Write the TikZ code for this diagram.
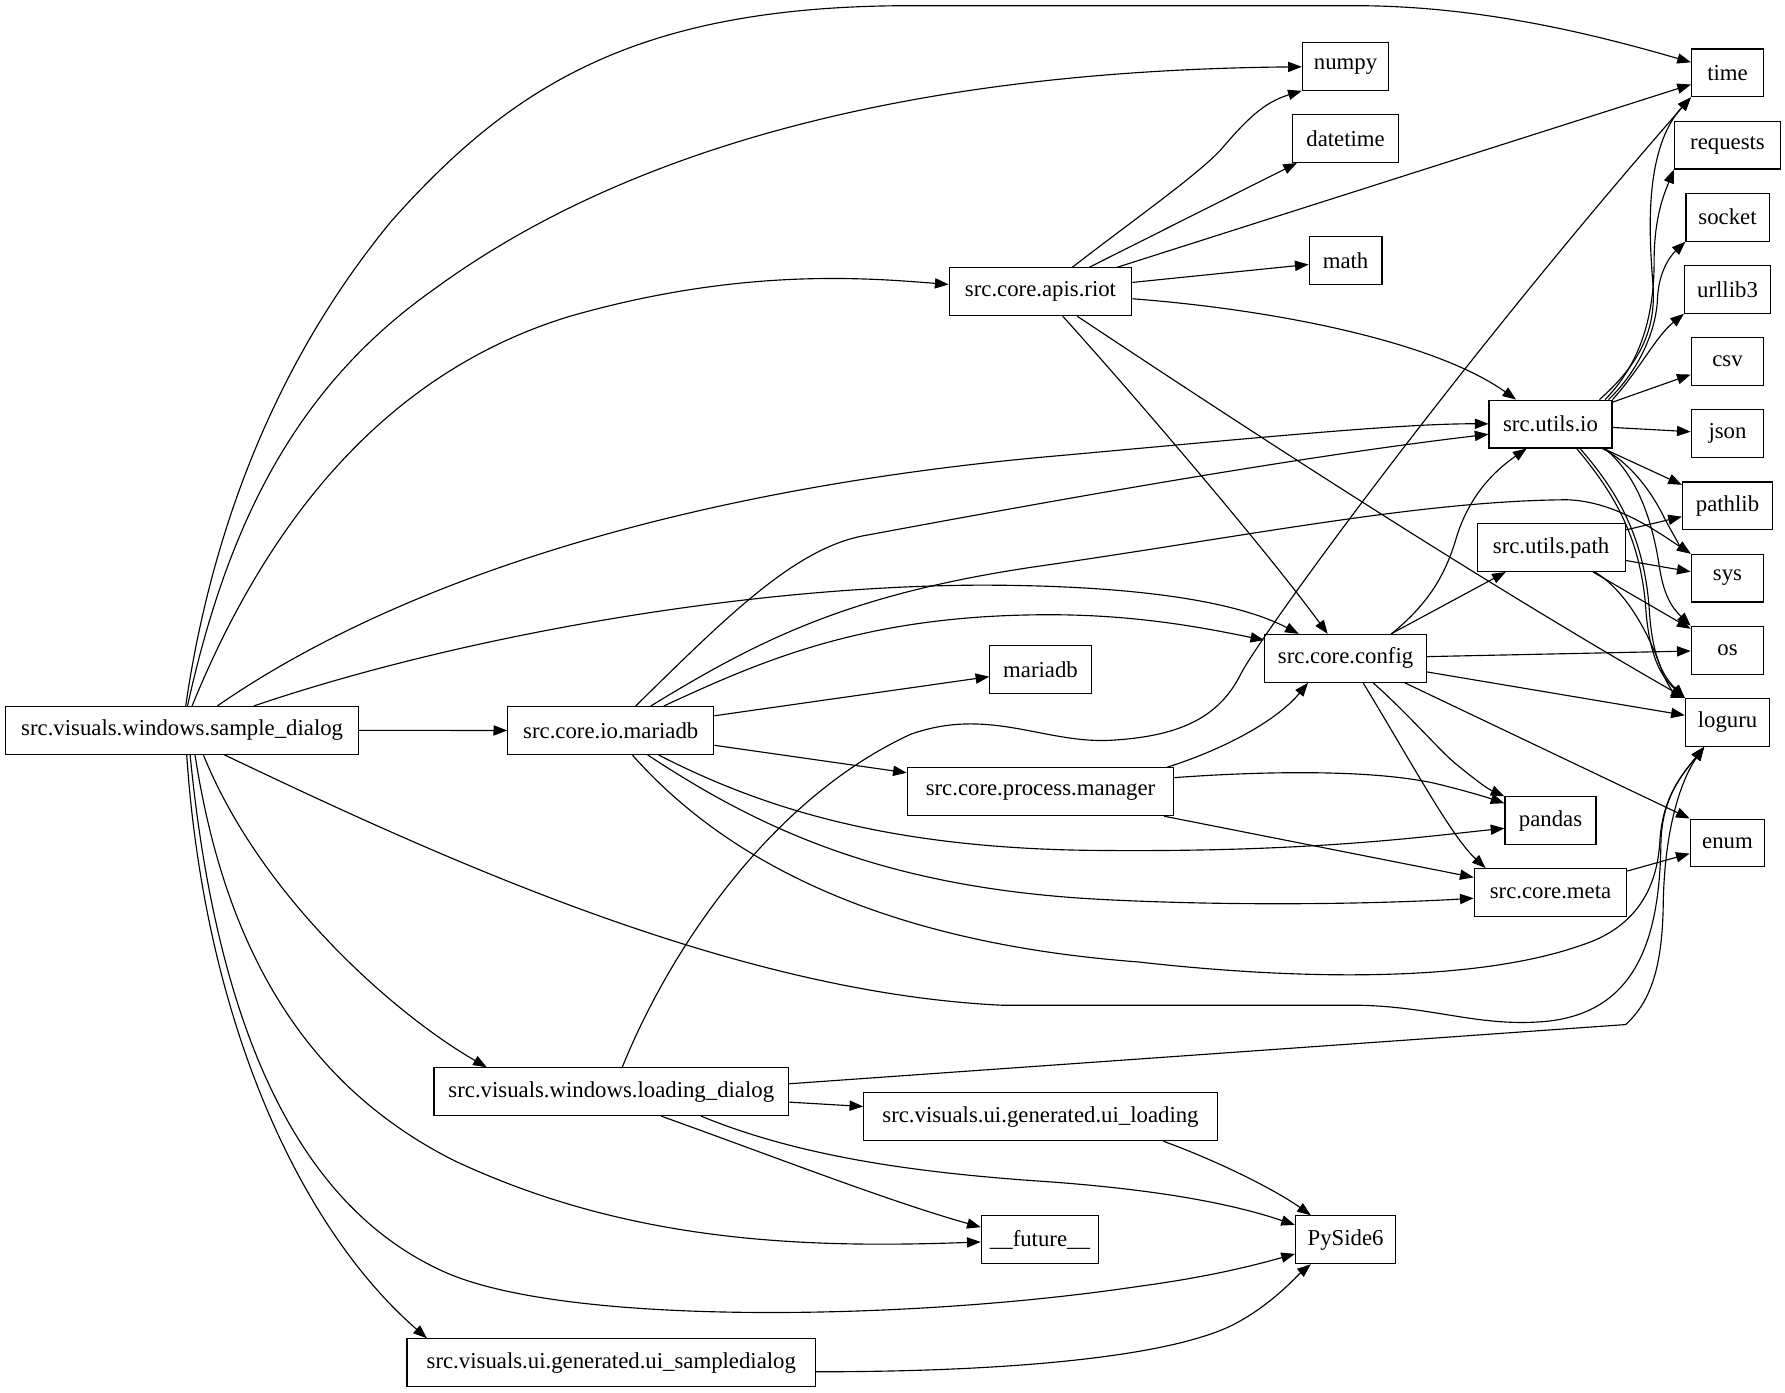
\documentclass[tikz,border=0pt]{standalone}
\usepackage{fontspec}
\setmainfont{Liberation Serif}
\usepackage{tikz}
\usetikzlibrary{arrows.meta, positioning}
\tikzset{
	modbox/.style={rectangle, draw=black, line width=1pt, minimum height=42pt, inner xsep=4pt, inner ysep=2pt, align=center},
	% import edges
	imp/.style={-{Triangle[length=12pt, width=9pt]}, line width=1pt},
}

\begin{document}
\begin{tikzpicture}[x=1pt, y=-1pt, font=\fontsize{20}{24}\selectfont, node distance=20.4pt]
	\useasboundingbox (0,0) rectangle (1568,1223);
	\node[modbox, minimum width=310pt] (sdlg) at (160,641.5) {src.visuals.windows.sample\_dialog};
	\node[modbox, minimum width=181pt] (iomdb) at (536.5,641.7) {src.core.io.mariadb};
	\node[modbox, minimum width=311.6pt] (ldlg) at (537,959) {src.visuals.windows.loading\_dialog};
	\node[modbox, minimum width=359pt] (uisample) at (537,1197) {src.visuals.ui.generated.ui\_sampledialog};
	\node[modbox, minimum width=160.5pt] (riot) at (914,256.3) {src.core.apis.riot};
	\node[modbox, minimum width=89pt] (mariadb) at (914,588) {mariadb};
	\node[modbox, minimum width=234pt] (pman) at (914,695.5) {src.core.process.manager};
	\node[modbox, minimum width=310.5pt] (uiload) at (914,981) {src.visuals.ui.generated.ui\_loading};
	\node[modbox, minimum width=103pt] (future) at (913.5,1089) {\_\_future\_\_};
	\node[modbox, minimum width=76pt] (numpy) at (1182,58.3) {numpy};
	\node[modbox, minimum width=93.5pt] (dtime) at (1182,121.7) {datetime};
	\node[modbox, minimum width=64pt] (math) at (1182,229) {math};
	\node[modbox, minimum width=142pt] (config) at (1182,578.3) {src.core.config};
	\node[modbox, minimum width=88pt] (pyside) at (1182,1089) {PySide6};
	\node[modbox, minimum width=108pt] (uio) at (1362,372.5) {src.utils.io};
	\node[modbox, minimum width=130pt] (upath) at (1362.5,481) {src.utils.path};
	\node[modbox, minimum width=80pt] (pandas) at (1362,721) {pandas};
	\node[modbox, minimum width=134pt] (meta) at (1362,784) {src.core.meta};
	% right column
	\node[modbox, minimum width=63.3pt] (time) at (1517.5,64) {time};
	\node[modbox, minimum width=93.2pt, below=of time] (requests) {requests};
	\node[modbox, minimum width=73pt, below=of requests] (socket) {socket};
	\node[modbox, minimum width=75.7pt, below=of socket] (urllib) {urllib3};
	\node[modbox, minimum width=63.8pt, below=of urllib] (csv) {csv};
	\node[modbox, minimum width=63.8pt, below=of csv] (json) {json};
	\node[modbox, minimum width=79.2pt, below=of json] (pathlib) {pathlib};
	\node[modbox, minimum width=63.8pt, below=of pathlib] (sys) {sys};
	\node[modbox, minimum width=63.8pt, below=of sys] (os) {os};
	\node[modbox, minimum width=74.1pt, below=of os] (loguru) {loguru};
	\node[modbox, minimum width=65.5pt, below=62.9pt of loguru] (enum) {enum};

	% sample_dialog
	\draw[imp] (sdlg) .. controls (185,470) and (240,320) .. (344,194) .. controls (450,75) and (560,5) .. (800,5) -- (1190,5) .. controls (1300,5) and (1400,30) .. (time);
	\draw[imp] (sdlg) .. controls (200,460) and (260,340) .. (380,255) .. controls (550,130) and (800,62) .. (numpy);
	\draw[imp] (sdlg) .. controls (230,470) and (330,330) .. (500,278) .. controls (650,235) and (760,244) .. (riot);
	\draw[imp] (sdlg) .. controls (350,510) and (600,430) .. (922,401) .. controls (1100,385) and (1230,372) .. (uio);
	\draw[imp] (sdlg) .. controls (400,560) and (650,515) .. (860,514) .. controls (980,514) and (1080,525) .. (config);
	\draw[imp] (sdlg) -- (iomdb);
	\draw[imp] ([xshift=18.6pt]sdlg.south) .. controls (230,790) and (350,893) .. ([xshift=-109.4pt]ldlg.north);
	\draw[imp] ([xshift=11.3pt]sdlg.south) .. controls (200,850) and (280,960) .. (400,1020) .. controls (550,1090) and (700,1097) .. (future);
	\draw[imp] ([xshift=7pt]sdlg.south) .. controls (190,900) and (260,1060) .. (392,1118) .. controls (500,1165) and (800,1160) .. (1000,1130) .. controls (1060,1122) and (1100,1112) .. (pyside);
	\draw[imp] ([xshift=4pt]sdlg.south) .. controls (180,900) and (265,1080) .. ([xshift=-162pt]uisample.north);
	\draw[imp] ([xshift=37pt]sdlg.south) .. controls (400,760) and (650,872) .. (880,883) -- (1192,883) .. controls (1260,884) and (1300,903) .. (1360,897) .. controls (1440,888) and (1458,820) .. (1459,740) .. controls (1460,700) and (1478,680) .. ([xshift=-20.5pt]loguru.south);

	% io.mariadb
	\draw[imp] (iomdb) .. controls (640,540) and (700,480) .. (762,470) .. controls (950,435) and (1150,400) .. ([yshift=-9pt]uio.west);
	\draw[imp] (iomdb) .. controls (670,560) and (750,520) .. (922,496) .. controls (1100,470) and (1250,440) .. (1376,439) .. controls (1420,440) and (1460,470) .. (sys.north west);
	\draw[imp] (iomdb) .. controls (670,580) and (760,540) .. (922,540) .. controls (1000,540) and (1060,552) .. ([yshift=16pt]config.west);
	\draw[imp] (iomdb) -- (mariadb);
	\draw[imp] (iomdb) -- (pman);
	\draw[imp] (iomdb) .. controls (670,710) and (780,745) .. (960,747) .. controls (1150,749) and (1250,735) .. ([yshift=-6.6pt]pandas.west);
	\draw[imp] (iomdb) .. controls (670,730) and (780,780) .. (966,790) .. controls (1100,797) and (1230,793) .. ([yshift=-5pt]meta.west);
	\draw[imp] (iomdb) .. controls (650,770) and (800,830) .. (1000,845) .. controls (1150,862) and (1300,862) .. (1390,830) .. controls (1445,812) and (1456,770) .. (1458,740) .. controls (1460,700) and (1478,680) .. ([xshift=-20.5pt]loguru.south);

	% apis.riot
	\draw[imp] (riot) .. controls (1000,190) and (1050,155) .. (1072,132) .. controls (1095,105) and (1110,90) .. (numpy.south west);
	\draw[imp] (riot) -- (dtime);
	\draw[imp] (riot) -- (time);
	\draw[imp] (riot) -- (math);
	\draw[imp] (riot) .. controls (1120,272) and (1260,300) .. (uio);
	\draw[imp] (riot) .. controls (990,340) and (1110,480) .. (config);
	\draw[imp] (riot) .. controls (1100,380) and (1300,510) .. (loguru);

	% utils.io
	\draw[imp] ([xshift=43pt]uio.north) .. controls (1440,320) and (1455,290) .. (1452,250) .. controls (1448,200) and (1445,130) .. (time.south west);
	\draw[imp] ([xshift=48pt]uio.north) .. controls (1440,320) and (1453,280) .. (1453,230) .. controls (1453,190) and (1462,170) .. (requests.south west);
	\draw[imp] ([xshift=51pt]uio.north) .. controls (1440,325) and (1455,290) .. (1456,262) .. controls (1457,240) and (1466,226) .. (socket.south west);
	\draw[imp] (uio.north east) .. controls (1440,325) and (1455,295) .. (urllib.south west);
	\draw[imp] (uio) -- (csv);
	\draw[imp] (uio) -- (json);
	\draw[imp] (uio) -- (pathlib);
	\draw[imp] ([xshift=45.6pt]uio.south) .. controls (1430,405) and (1450,430) .. (1462,455) .. controls (1470,470) and (1476,480) .. (sys.north west);
	\draw[imp] ([xshift=48pt]uio.south) .. controls (1440,420) and (1452,460) .. (1458,500) .. controls (1462,525) and (1470,535) .. (os.north west);
	\draw[imp] ([xshift=23pt]uio.south) .. controls (1415,430) and (1442,470) .. (1446,539) .. controls (1450,580) and (1460,595) .. (loguru.north west);
	\draw[imp] ([xshift=26pt]uio.south) .. controls (1419,430) and (1445,470) .. (1449,539) .. controls (1452,580) and (1462,595) .. (loguru.north west);

	% utils.path
	\draw[imp] (upath) -- (pathlib);
	\draw[imp] (upath) -- (sys);
	\draw[imp] (upath) -- (os);
	\draw[imp] ([xshift=38.5pt]upath.south) .. controls (1430,520) and (1450,560) .. (1460,590) .. controls (1465,603) and (1472,610) .. (loguru.north west);

	% core.config
	\draw[imp] ([xshift=40.3pt]config.north) .. controls (1255,530) and (1270,505) .. (1280,470) .. controls (1293,430) and (1318,410) .. ([xshift=-21pt]uio.south);
	\draw[imp] (config) -- (upath);
	\draw[imp] (config) -- (os);
	\draw[imp] (config) -- (loguru);
	\draw[imp] ([xshift=52pt]config.south) -- (enum.north west);
	\draw[imp] ([xshift=24.2pt]config.south) .. controls (1240,630) and (1265,660) .. (1280,672) .. controls (1295,684) and (1305,692) .. (pandas.north west);
	\draw[imp] ([xshift=15.4pt]config.south) .. controls (1240,670) and (1275,735) .. ([xshift=-57pt]meta.north);

	% process.manager, meta
	\draw[imp] ([xshift=111pt]pman.north) .. controls (1070,660) and (1120,635) .. ([xshift=-33pt]config.south);
	\draw[imp] ([yshift=12.4pt]pman.east) .. controls (1100,678) and (1200,675) .. (1260,688) .. controls (1285,694) and (1305,700) .. ([yshift=15.4pt]pandas.west);
	\draw[imp] (pman) -- (meta);
	\draw[imp] (meta) -- (enum);

	% loading_dialog and ui modules
	\draw[imp] ([xshift=9.6pt]ldlg.north) .. controls (590,830) and (680,700) .. (800,645) .. controls (870,620) and (920,655) .. (980,650) .. controls (1040,646) and (1072,628) .. (1090,592) .. controls (1106,560) and (1280,320) .. (time.south west);
	\draw[imp] ([yshift=7pt]ldlg.east) -- (1428,900) .. controls (1450,880) and (1460,850) .. (1461,796) .. controls (1462,720) and (1480,680) .. ([xshift=-20.5pt]loguru.south);
	\draw[imp] (ldlg) -- (uiload);
	\draw[imp] ([xshift=44pt]ldlg.south) .. controls (680,1016) and (780,1055) .. ([yshift=11pt]future.west);
	\draw[imp] ([xshift=79pt]ldlg.south) .. controls (700,1015) and (800,1030) .. (920,1038) .. controls (1030,1046) and (1090,1060) .. ([yshift=13pt]pyside.west);
	\draw[imp] ([xshift=108pt]uiload.south) .. controls (1070,1020) and (1120,1045) .. ([xshift=-30.5pt]pyside.north);
	\draw[imp] ([yshift=-8pt]uisample.east) .. controls (900,1205) and (1040,1190) .. (1090,1160) .. controls (1120,1143) and (1140,1120) .. ([xshift=-30.5pt]pyside.south);
\end{tikzpicture}
\end{document}
